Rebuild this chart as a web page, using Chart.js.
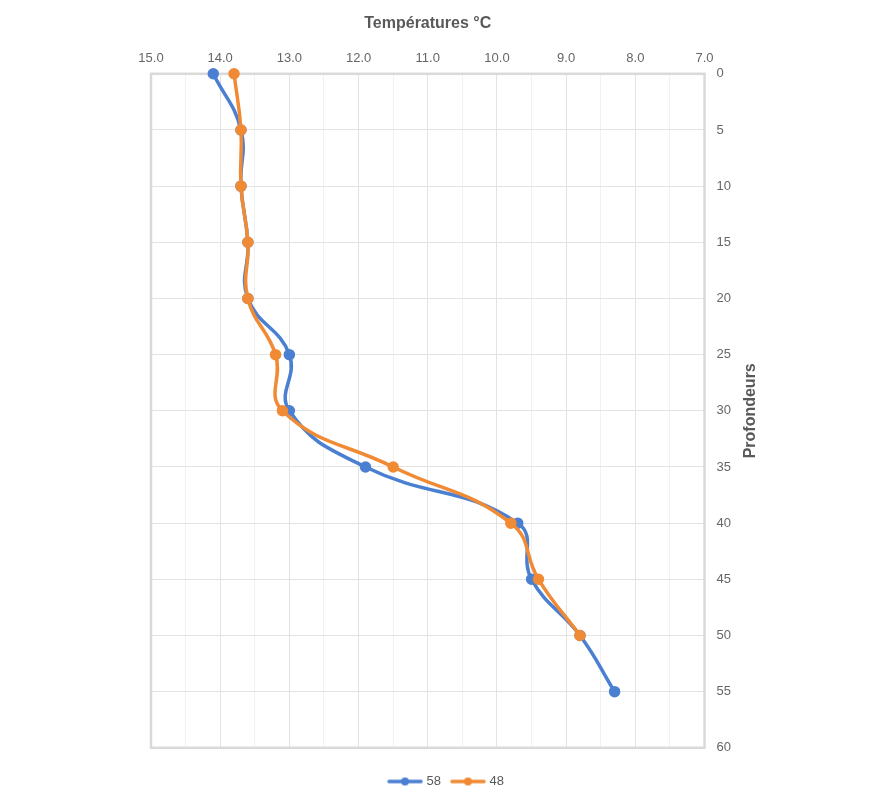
<!DOCTYPE html>
<html>
<head>
<meta charset="utf-8">
<script src="https://cdn.jsdelivr.net/npm/chart.js@4/dist/chart.umd.min.js"></script>
<style>
html,body{margin:0;padding:0;background:#fff;}
#wrap{width:874px;height:800px;position:relative;}
</style>
</head>
<body>
<div id="wrap"><canvas id="c"></canvas></div>
<script>
const depths = [0, 5, 10, 15, 20, 25, 30, 35, 40, 45, 50, 55];
const series58 = [14.1, 13.7, 13.7, 13.6, 13.6, 13.0, 13.0, 11.9, 9.7, 9.5, 8.8, 8.3];
const series48 = [13.8, 13.7, 13.7, 13.6, 13.6, 13.2, 13.1, 11.5, 9.8, 9.4, 8.8];
const seriesNames = ['58', '48'];
const xTitle = 'Températures °C';
const yTitle = 'Profondeurs';

const BLUE = '#4A7FD1';
const ORANGE = '#F08A34';

function pts(vals){ return vals.map((v,i)=>({x:v, y:depths[i]})); }

function legendIcon(color){
  const c = document.createElement('canvas');
  c.width = 36; c.height = 12;
  const g = c.getContext('2d');
  g.strokeStyle = color; g.lineWidth = 3.5; g.lineCap='round';
  g.beginPath(); g.moveTo(2,6); g.lineTo(34,6); g.stroke();
  g.fillStyle = color; g.beginPath(); g.arc(18,6,4,0,Math.PI*2); g.fill();
  return c;
}

const yTitlePlugin = {
  id:'yTitle',
  afterDraw(chart){
    const ctx = chart.ctx;
    const a = chart.chartArea;
    ctx.save();
    ctx.translate(751, (a.top+a.bottom)/2);
    ctx.rotate(-Math.PI/2);
    ctx.font = 'bold 16px "Liberation Sans", Arial, sans-serif';
    ctx.fillStyle = '#595959';
    ctx.textAlign='center'; ctx.textBaseline='middle';
    ctx.fillText(yTitle, 0, 0);
    ctx.restore();
  }
};

const borderPlugin = {
  id:'plotBorder',
  beforeDatasetsDraw(chart){
    const ctx = chart.ctx, a = chart.chartArea;
    ctx.save();
    ctx.strokeStyle = '#D9D9D9'; ctx.lineWidth = 2.5;
    ctx.strokeRect(a.left, a.top, a.right-a.left, a.bottom-a.top);
    ctx.restore();
  }
};

Chart.defaults.font.family = '"Liberation Sans", Arial, sans-serif';
Chart.defaults.color = '#595959';

new Chart(document.getElementById('c'), {
  type:'scatter',
  data:{
    datasets:[
      {label:seriesNames[0], data:pts(series58), showLine:true, borderColor:BLUE, backgroundColor:BLUE, order:1, clip:false,
       borderWidth:3.5, pointRadius:4, pointHoverRadius:4, tension:0.45, pointStyle:'circle'},
      {label:seriesNames[1], data:pts(series48), showLine:true, borderColor:ORANGE, backgroundColor:ORANGE, order:0, clip:false,
       borderWidth:3.5, pointRadius:4, pointHoverRadius:4, tension:0.45, pointStyle:'circle'}
    ]
  },
  options:{
    responsive:true, maintainAspectRatio:false, animation:false,
    layout:{padding:{left:151, right:131, top:14, bottom:2}},
    plugins:{
      tooltip:{enabled:false},
      legend:{
        position:'bottom',
        title:{display:true, text:' ', font:{size:1}, padding:7},
        labels:{
          usePointStyle:true, pointStyleWidth:30, padding:12, font:{size:13}, color:'#595959',
          generateLabels(chart){
            return chart.data.datasets.map((ds,i)=>({
              text:ds.label, pointStyle:legendIcon(ds.borderColor), fillStyle:ds.borderColor,
              strokeStyle:ds.borderColor, lineWidth:0, datasetIndex:i, hidden:false, fontColor:'#595959'
            }));
          }
        }
      }
    },
    scales:{
      x:{
        type:'linear', position:'top', reverse:true, min:7, max:15,
        ticks:{stepSize:0.5, padding:8, font:{size:13}, color:'#666666',
          callback:(v)=> (Math.abs(v - Math.round(v))<1e-6) ? v.toFixed(1) : ''},
        grid:{drawTicks:false, color:(c)=> (Math.abs(c.tick.value - Math.round(c.tick.value))<1e-6) ? '#E3E3E3' : '#F1F1F1', lineWidth:1},
        border:{display:false},
        title:{display:true, text:xTitle, font:{size:16, weight:'bold'}, color:'#595959', padding:{top:0, bottom:9}}
      },
      y:{
        type:'linear', position:'right', reverse:true, min:0, max:60,
        ticks:{stepSize:5, padding:12, font:{size:13}, color:'#666666'},
        grid:{drawTicks:false, color:'#E3E3E3', lineWidth:1},
        border:{display:false}
      }
    }
  },
  plugins:[borderPlugin, yTitlePlugin]
});
</script>
</body>
</html>
